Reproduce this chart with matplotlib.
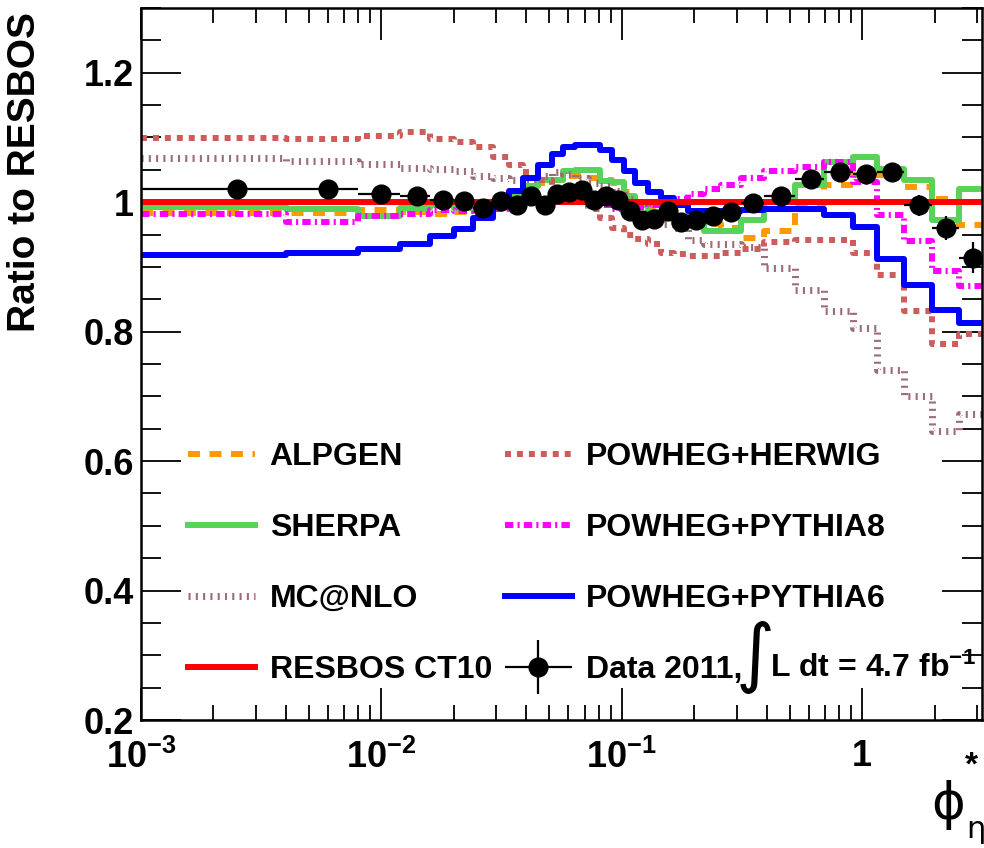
import matplotlib
matplotlib.use("Agg")
import matplotlib.pyplot as plt
from matplotlib.ticker import MultipleLocator, LogLocator, NullFormatter
from matplotlib.legend_handler import HandlerErrorbar
from matplotlib.container import ErrorbarContainer
import numpy as np

plt.rcParams['font.family'] = ['Liberation Sans', 'DejaVu Sans']
plt.rcParams['font.weight'] = 'bold'
plt.rcParams['mathtext.fontset'] = 'custom'
plt.rcParams['mathtext.rm'] = 'Liberation Sans:bold'
plt.rcParams['mathtext.bf'] = 'Liberation Sans:bold'
plt.rcParams['mathtext.it'] = 'Liberation Sans:bold:italic'
plt.rcParams['mathtext.default'] = 'bf'

# phi*_eta bin edges
edges = [0.001, 0.004, 0.008, 0.012, 0.016, 0.020, 0.024, 0.029, 0.034, 0.039,
         0.045, 0.051, 0.057, 0.064, 0.072, 0.081, 0.091, 0.102, 0.114, 0.128,
         0.145, 0.165, 0.189, 0.219, 0.258, 0.312, 0.391, 0.524, 0.695, 0.918,
         1.153, 1.496, 1.947, 2.522, 3.277]

data = [1.021, 1.021, 1.013, 1.009, 1.004, 1.002, 0.991, 1.002, 0.996, 1.009,
        0.996, 1.013, 1.016, 1.019, 1.004, 1.009, 1.004, 0.987, 0.973, 0.974,
        0.987, 0.970, 0.973, 0.979, 0.985, 0.999, 1.010, 1.036, 1.047, 1.043,
        1.047, 0.995, 0.960, 0.914]
data_err = [0.004] * 27 + [0.006, 0.008, 0.010, 0.014, 0.016, 0.019, 0.024]

resbos = [1.0] * 34

alpgen = [0.984, 0.983, 0.988, 0.985, 0.982, 0.985, 0.990, 0.995, 1.005, 1.020,
          1.030, 1.035, 1.040, 1.040, 1.038, 1.035, 1.030, 1.015, 1.000, 0.990,
          0.980, 0.975, 0.975, 0.966, 0.960, 0.945, 0.956, 0.997, 1.027, 1.042,
          1.042, 1.023, 1.005, 0.964]

sherpa = [0.993, 0.990, 0.978, 0.991, 0.995, 0.991, 0.990, 0.998, 1.010, 1.025,
          1.035, 1.035, 1.048, 1.049, 1.049, 1.033, 1.031, 1.010, 0.995, 0.985,
          0.977, 0.967, 0.966, 0.956, 0.956, 0.973, 1.000, 1.027, 1.062, 1.070,
          1.051, 1.034, 0.973, 1.020]

mcatnlo = [1.068, 1.063, 1.059, 1.053, 1.052, 1.048, 1.040, 1.038, 1.034, 1.036,
           1.040, 1.046, 1.043, 1.038, 1.030, 1.025, 1.018, 1.005, 0.995, 0.980,
           0.966, 0.960, 0.942, 0.935, 0.935, 0.930, 0.899, 0.865, 0.832, 0.806,
           0.740, 0.701, 0.647, 0.672]

herwig = [1.099, 1.098, 1.103, 1.108, 1.098, 1.093, 1.085, 1.070, 1.057, 1.047,
          1.035, 1.022, 1.009, 1.000, 0.990, 0.976, 0.960, 0.950, 0.943, 0.935,
          0.922, 0.920, 0.917, 0.917, 0.922, 0.927, 0.938, 0.941, 0.941, 0.922,
          0.887, 0.832, 0.781, 0.796]

pythia8 = [0.981, 0.969, 0.978, 0.981, 0.988, 0.986, 0.990, 0.990, 0.995, 1.000,
           1.005, 1.010, 1.010, 1.005, 1.000, 0.995, 0.990, 0.990, 0.993, 0.995,
           1.000, 1.005, 1.012, 1.020, 1.026, 1.038, 1.048, 1.054, 1.062, 1.031,
           0.980, 0.940, 0.894, 0.871]

pythia6 = [0.919, 0.921, 0.927, 0.936, 0.948, 0.959, 0.975, 0.997, 1.017, 1.038,
           1.057, 1.075, 1.085, 1.088, 1.088, 1.080, 1.065, 1.048, 1.030, 1.015,
           1.006, 0.996, 0.987, 0.987, 0.987, 0.988, 0.990, 0.989, 0.980, 0.961,
           0.912, 0.872, 0.833, 0.813]

e = np.array(edges)
centers = 0.5 * (e[:-1] + e[1:])
xerr = 0.5 * (e[1:] - e[:-1])

fig = plt.figure(figsize=(9.84, 8.48), dpi=100)
ax = fig.add_axes([141 / 984, 128 / 848, 841 / 984, 712 / 848])

def stepline(vals, **kw):
    y = list(vals) + [vals[-1]]
    return ax.plot(edges, y, drawstyle='steps-post', **kw)[0]

lw = 4.3
h_alp = stepline(alpgen, color='#ff9900', lw=lw, ls=(0, (2.0, 1.6)), dash_capstyle='butt')
h_she = stepline(sherpa, color='#5ad25a', lw=lw)
h_mc = stepline(mcatnlo, color='#9c6c78', lw=5, ls=(0, (0.3, 0.75)), dash_capstyle='butt')
h_her = stepline(herwig, color='#cd5c5c', lw=lw, ls=(0, (1.0, 1.0)), dash_capstyle='butt')
h_py8 = stepline(pythia8, color='#ff00ff', lw=lw, ls=(0, (1.4, 0.7, 0.35, 0.7)), dash_capstyle='butt')
h_py6 = stepline(pythia6, color='#0000ff', lw=lw)
h_res = stepline(resbos, color='#ff0000', lw=lw)
h_dat = ax.errorbar(centers, data, xerr=xerr, yerr=data_err, fmt='o', color='black',
                    ms=13.5, lw=1.6, capsize=0, zorder=5)

ax.set_xscale('log')
ax.set_xlim(0.001, 3.15)
ax.set_ylim(0.2, 1.3)

ax.set_xticks([0.001, 0.01, 0.1, 1])
ax.set_xticklabels([r'$10^{-3}$', r'$10^{-2}$', r'$10^{-1}$', '1'])
ax.xaxis.set_minor_locator(LogLocator(base=10, subs=np.arange(2, 10)))
ax.xaxis.set_minor_formatter(NullFormatter())
ax.set_yticks([0.2, 0.4, 0.6, 0.8, 1.0, 1.2])
ax.set_yticklabels(['0.2', '0.4', '0.6', '0.8', '1', '1.2'])
ax.yaxis.set_minor_locator(MultipleLocator(0.05))

ax.tick_params(axis='both', which='both', direction='in', top=True, right=True, width=1.3)
ax.tick_params(axis='x', which='major', length=23, pad=14, labelsize=26)
ax.tick_params(axis='x', which='minor', length=11)
ax.tick_params(axis='y', which='major', length=29, pad=5, labelsize=26)
ax.tick_params(axis='y', which='minor', length=14.5)
for s in ax.spines.values():
    s.set_linewidth(1.8)

fig.text(25 / 984, 1 - 172 / 848, 'Ratio to RESBOS', rotation=90, ha='center', va='center',
         fontsize=28, fontweight='bold')
fig.text(948 / 984, 1 - 805 / 848, '\u03d5', fontsize=37, ha='center', va='center',
         fontweight='normal', family=['DejaVu Sans'])
fig.text(971 / 984, 1 - 766 / 848, '*', fontsize=24, ha='center', va='center', fontweight='bold')
fig.text(976 / 984, 1 - 830 / 848, '\u03b7', fontsize=22, ha='center', va='center',
         fontweight='normal', family=['DejaVu Sans'])

handles = [h_alp, h_she, h_mc, h_res, h_her, h_py8, h_py6, h_dat]
labels = ['ALPGEN', 'SHERPA', 'MC@NLO', 'RESBOS CT10',
          'POWHEG+HERWIG', 'POWHEG+PYTHIA8', 'POWHEG+PYTHIA6', 'Data 2011,']
ax.legend(handles, labels, ncol=2, loc='upper left', bbox_to_anchor=(0.056, 0.390),
          frameon=False, fontsize=23, handlelength=2.1, handletextpad=0.45,
          columnspacing=0.4, labelspacing=1.28, borderpad=0, borderaxespad=0,
          handler_map={ErrorbarContainer: HandlerErrorbar(xerr_size=1.05, yerr_size=0.85)})

# rest of the luminosity label, with the tall integral sign
fig.text(755 / 984, 1 - 657 / 848, '\u222b', fontsize=54, ha='center', va='center',
         fontweight='normal', family=['DejaVu Sans'])
fig.text(770 / 984, 1 - 677 / 848, 'L dt = 4.7 fb$^{-1}$', fontsize=23, ha='left',
         va='baseline', fontweight='bold')

fig.savefig('out.png', dpi=100)
